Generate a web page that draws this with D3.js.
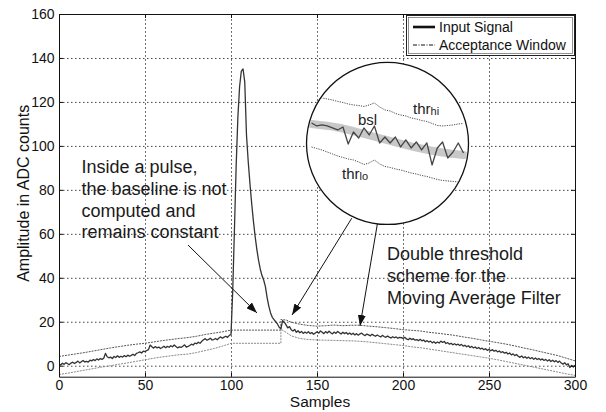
<!DOCTYPE html>
<html>
<head>
<meta charset="utf-8">
<script src="https://cdn.jsdelivr.net/npm/d3@7"></script>
<style>
  body { margin: 0; background: #fff; }
  svg { display: block; font-family: 'Liberation Sans', Arial, sans-serif; }
</style>
</head>
<body>
<div id="chart"></div>
<script>
const sampleTicks = [0, 50, 100, 150, 200, 250, 300];
const amplitudeTicks = [0, 20, 40, 60, 80, 100, 120, 140, 160];

// input signal, one value per sample (0..300)
const signal = [
  0.8, 0.3, 1.1, 0.6, 1.4, 0.9, 0.5, 1.2, 1.6, 1.0,
  1.5, 2.1, 1.3, 1.8, 2.4, 1.7, 2.0, 1.6, 2.5, 2.2,
  2.8, 2.3, 3.1, 2.6, 3.3, 2.9, 3.4, 5.6, 4.1, 3.6,
  3.9, 3.3, 4.2, 3.7, 4.5, 3.8, 4.3, 3.9, 4.6, 4.1,
  4.8, 4.3, 4.7, 5.2, 4.6, 5.6, 5.9, 6.3, 5.8, 6.6,
  6.4, 6.9, 7.3, 9.4, 8.6, 8.0, 8.7, 8.1, 8.5, 7.8,
  8.3, 8.9, 8.2, 8.8, 8.4, 9.1, 8.6, 9.4, 8.7, 8.1,
  8.6, 8.3, 8.9, 9.5, 8.5, 8.8, 9.2, 9.8, 9.4, 10.3,
  10.0, 10.7, 10.2, 11.1, 11.8, 12.3, 11.6, 12.0, 12.5, 11.7,
  11.9, 12.4, 11.8, 12.6, 13.1, 12.5, 13.0, 13.4, 12.9, 13.8,
  14.2, 34, 62, 91, 113, 127, 134, 135, 129, 105,
  93, 83, 74, 66, 59, 53, 48, 44, 41, 39,
  36, 31, 27, 24, 22, 21, 20, 19, 17.5, 16.8,
  20.5, 19.8, 18.6, 17.2, 17.8, 16.4, 15.8, 16.5, 15.2, 15.9,
  15.0, 15.6, 14.7, 15.3, 14.8, 15.5, 14.6, 15.1, 14.3, 14.9,
  15.4, 14.8, 15.8, 15.2, 14.6, 15.5, 14.9, 15.7, 15.0, 14.5,
  15.3, 14.7, 15.6, 15.0, 14.4, 15.2, 14.6, 15.1, 14.3, 14.9,
  14.2, 14.8, 14.0, 14.6, 13.9, 14.5, 14.8, 14.1, 13.7, 14.4,
  14.0, 13.6, 14.3, 13.8, 13.4, 14.0, 13.5, 13.1, 13.8, 13.3,
  12.9, 13.5, 13.0, 12.6, 13.2, 12.7, 13.1, 12.5, 12.9, 12.8,
  12.4, 12.9, 12.2, 11.8, 12.5, 11.9, 12.3, 11.6, 11.9, 11.4,
  12.0, 11.3, 11.7, 10.9, 11.4, 10.8, 11.2, 10.4, 10.9, 10.2,
  10.8, 10.3, 11.2, 10.6, 11.0, 10.1, 10.5, 9.8, 10.2, 9.5,
  10.0, 9.4, 9.8, 9.2, 9.7, 8.9, 9.3, 8.6, 9.1, 8.3,
  8.8, 8.1, 8.5, 7.8, 8.3, 7.6, 8.0, 7.3, 7.7, 7.0,
  7.4, 6.8, 7.3, 6.6, 7.0, 6.3, 6.7, 6.0, 6.4, 5.7,
  6.1, 5.3, 5.8, 4.9, 5.4, 4.6, 5.1, 4.3, 3.8, 4.4,
  3.6, 4.1, 3.4, 3.9, 3.2, 3.7, 2.9, 3.5, 2.8, 3.3,
  2.6, 3.1, 2.4, 2.9, 2.1, 2.7, 1.9, 2.5, 1.8, 2.3,
  1.5, 2.1, 1.2, 0.7, 1.4, 0.4, 0.9, -0.8, 0.1, -0.6,
  0.2
];

// acceptance window (thr_hi / thr_lo)
const windowSamples = [
  0, 5, 10, 15, 20, 25, 30, 35, 40, 45, 50, 55, 60, 65, 70, 75, 80, 85, 90, 95, 100,
  129, 129, 132,
  135, 140, 145, 150, 155, 160, 165, 170, 175, 180, 185, 190, 195, 200, 205, 210, 215,
  220, 225, 230, 235, 240, 245, 250, 255, 260, 265, 270, 275, 280, 285, 290, 295, 300
];
const upperWindow = [
  4.2, 4.8, 5.4, 6.0, 6.7, 7.4, 8.1, 8.7, 9.3, 9.8, 10.2, 10.8, 11.4, 11.9, 12.4, 12.8, 13.4, 14.2, 14.8, 15.4, 16.2,
  16.2, 21.0, 20.8,
  19.8, 18.9, 18.3, 18.0, 18.2, 18.5, 18.2, 18.4, 18.4, 18.0, 17.7, 17.3, 16.9, 16.4, 16.1, 15.8, 15.2,
  14.8, 14.3, 13.8, 13.1, 12.5, 11.8, 11.1, 10.5, 9.8, 9.0, 8.1, 7.3, 6.4, 5.5, 4.6, 3.4, 2.2
];
const lowerWindow = [
  -4.0, -3.4, -2.7, -2.0, -1.3, -0.6, 0.0, 0.7, 1.3, 2.0, 2.7, 3.4, 4.0, 4.5, 5.0, 5.3, 6.0, 6.9, 7.8, 8.9, 10.2,
  10.2, 16.6, 15.2,
  13.6, 12.4, 11.9, 11.7, 11.6, 11.5, 11.4, 11.3, 11.1, 10.8, 10.4, 10.0, 9.6, 9.2, 8.6, 8.2, 7.6,
  7.0, 6.4, 5.8, 5.2, 4.6, 4.0, 3.4, 2.7, 1.9, 1.1, 0.3, -0.5, -1.3, -2.1, -2.9, -3.7, -4.4
];

// magnified view inside the circle (index 0..29, arbitrary amplitude units)
const insetSignal = [
  6.7, 6.4, 6.5, 6.4, 6.2, 6.0, 6.3, 4.6, 5.8, 5.2,
  6.2, 5.5, 6.4, 4.7, 5.3, 4.7, 5.3, 4.3, 5.0, 4.2,
  4.8, 4.0, 4.7, 2.5, 4.2, 4.8, 3.2, 3.8, 4.7, 3.7
];
const insetBaselineIdx = [0, 5, 10, 15, 20, 25, 29];
const insetBaseline = [6.6, 6.25, 5.6, 4.9, 4.25, 3.75, 3.5];
const insetThrHi = [
  9.35, 9.3, 9.2, 9.1, 9.0, 8.85, 8.75, 8.6, 8.5, 8.45,
  8.35, 8.5, 8.7, 8.3, 8.0, 7.9, 7.65, 7.5, 7.4, 7.2,
  7.1, 6.95, 6.85, 6.65, 6.45, 6.4, 6.45, 6.5, 6.6, 6.65
];
const insetThrLo = [
  4.3, 4.15, 4.0, 3.8, 3.6, 3.4, 3.25, 3.1, 3.0, 2.8,
  2.55, 2.7, 3.0, 2.6, 2.35, 2.25, 2.1, 2.0, 1.85, 1.7,
  1.6, 1.45, 1.35, 1.2, 1.05, 0.95, 0.9, 0.85, 0.8, 0.8
];

// annotations in data coordinates [sample, amplitude]
const circleCenter = [191, 101.1];
const arrows = [
  { from: [75, 54.9], to: [115.1, 24] },
  { from: [170.2, 67.1], to: [135.5, 23.1] },
  { from: [185.1, 64.5], to: [175, 18.1] }
];
const pulseNote = ['Inside a pulse,', 'the baseline is not', 'computed and', 'remains constant'];
const filterNote = ['Double threshold', 'scheme for the', 'Moving Average Filter'];

const svgWidth = 606;
const svgHeight = 412;
const margin = { top: 14, right: 31, bottom: 35.3, left: 59 };
const width = svgWidth - margin.left - margin.right;
const height = svgHeight - margin.top - margin.bottom;

const svg = d3.select('#chart')
  .append('svg')
  .attr('width', svgWidth)
  .attr('height', svgHeight);

svg.append('rect')
  .attr('width', svgWidth)
  .attr('height', svgHeight)
  .attr('fill', '#fff');

const defs = svg.append('defs');
defs.append('clipPath')
  .attr('id', 'plot-clip')
  .append('rect')
  .attr('width', width)
  .attr('height', height);

defs.append('marker')
  .attr('id', 'arrowhead')
  .attr('viewBox', '0 0 11 8')
  .attr('refX', 11)
  .attr('refY', 4)
  .attr('markerWidth', 11)
  .attr('markerHeight', 8)
  .attr('markerUnits', 'userSpaceOnUse')
  .attr('orient', 'auto')
  .append('path')
  .attr('d', 'M0,0 L11,4 L0,8 Z')
  .attr('fill', '#111');

const bounds = svg.append('g')
  .attr('transform', `translate(${margin.left}, ${margin.top})`);

const xScale = d3.scaleLinear()
  .domain([0, 300])
  .range([0, width]);

const yScale = d3.scaleLinear()
  .domain([-5, 160])
  .range([height, 0]);

// dotted grid
const gridStyle = g => {
  g.select('.domain').remove();
  g.selectAll('text').remove();
  g.selectAll('line')
    .attr('stroke', '#444')
    .attr('stroke-width', 1)
    .attr('stroke-dasharray', '1.5,2.5');
};

bounds.append('g')
  .attr('class', 'grid x')
  .attr('transform', `translate(0, ${height})`)
  .call(d3.axisBottom(xScale).tickValues(sampleTicks.slice(1, -1)).tickSize(-height))
  .call(gridStyle);

bounds.append('g')
  .attr('class', 'grid y')
  .call(d3.axisLeft(yScale).tickValues(amplitudeTicks.slice(0, -1)).tickSize(-width))
  .call(gridStyle);

// acceptance window
const windowLine = values => d3.line()
  .x((d, i) => xScale(d))
  .y((d, i) => yScale(values[i]));

const plot = bounds.append('g')
  .attr('clip-path', 'url(#plot-clip)');

plot.selectAll('.window')
  .data([upperWindow, lowerWindow])
  .enter()
  .append('path')
  .attr('class', 'window')
  .attr('d', d => windowLine(d)(windowSamples))
  .attr('fill', 'none')
  .attr('stroke', (d, i) => i === 0 ? '#555' : '#888')
  .attr('stroke-width', 1)
  .attr('stroke-dasharray', '2,1');

// input signal
const signalLine = d3.line()
  .x((d, i) => xScale(i))
  .y(d => yScale(d));

plot.append('path')
  .attr('class', 'signal')
  .attr('d', signalLine(signal))
  .attr('fill', 'none')
  .attr('stroke', '#333')
  .attr('stroke-width', 1.3)
  .attr('stroke-linejoin', 'round');

// axes with inward ticks
const axisStyle = g => {
  g.select('.domain').attr('stroke', '#111').attr('stroke-width', 1);
  g.selectAll('line').attr('stroke', '#111');
  g.selectAll('text')
    .attr('fill', '#111')
    .style('font-size', '14px')
    .style('font-family', "'Liberation Sans', Arial, sans-serif");
};

bounds.append('g')
  .attr('class', 'x axis')
  .attr('transform', `translate(0, ${height})`)
  .call(d3.axisBottom(xScale).tickValues(sampleTicks).tickSizeInner(-4).tickSizeOuter(0).tickPadding(3.5))
  .call(axisStyle);

bounds.append('g')
  .attr('class', 'y axis')
  .call(d3.axisLeft(yScale).tickValues(amplitudeTicks).tickSizeInner(-4).tickSizeOuter(0).tickPadding(4.5))
  .call(axisStyle);

bounds.append('g')
  .attr('class', 'x axis top')
  .call(d3.axisTop(xScale).tickValues(sampleTicks).tickSizeInner(-4).tickSizeOuter(0).tickFormat(''))
  .call(axisStyle);

bounds.append('g')
  .attr('class', 'y axis right')
  .attr('transform', `translate(${width}, 0)`)
  .call(d3.axisRight(yScale).tickValues(amplitudeTicks).tickSizeInner(-4).tickSizeOuter(0).tickFormat(''))
  .call(axisStyle);

// axis titles
svg.append('text')
  .attr('x', margin.left + width / 2 + 3)
  .attr('y', 407)
  .attr('text-anchor', 'middle')
  .attr('fill', '#111')
  .style('font-size', '15.5px')
  .text('Samples');

svg.append('text')
  .attr('transform', `translate(29, ${margin.top + height / 2 - 2}) rotate(-90)`)
  .attr('text-anchor', 'middle')
  .attr('fill', '#111')
  .style('font-size', '16px')
  .text('Amplitude in ADC counts');

// legend
const legend = svg.append('g')
  .attr('class', 'legend');

legend.append('rect')
  .attr('x', 406.5).attr('y', 15.5)
  .attr('width', 168).attr('height', 40)
  .attr('fill', '#fff')
  .attr('stroke', '#222');

legend.append('rect')
  .attr('x', 408.5).attr('y', 17.5)
  .attr('width', 164).attr('height', 36)
  .attr('fill', 'none')
  .attr('stroke', '#777')
  .attr('stroke-width', 0.8);

const legendItems = [
  { label: 'Input Signal', width: 2.6, dash: null, y: 27 },
  { label: 'Acceptance Window', width: 1, dash: '4,1.5,1,1.5', y: 45 }
];

legend.selectAll('.legend-line')
  .data(legendItems)
  .enter()
  .append('line')
  .attr('class', 'legend-line')
  .attr('x1', 413).attr('x2', 435)
  .attr('y1', d => d.y).attr('y2', d => d.y)
  .attr('stroke', '#111')
  .attr('stroke-width', d => d.width)
  .attr('stroke-dasharray', d => d.dash);

legend.selectAll('.legend-label')
  .data(legendItems)
  .enter()
  .append('text')
  .attr('class', 'legend-label')
  .attr('x', 439)
  .attr('y', d => d.y + 5)
  .attr('fill', '#111')
  .style('font-size', '14px')
  .text(d => d.label);

// magnifier circle
const cx = margin.left + xScale(circleCenter[0]);
const cy = margin.top + yScale(circleCenter[1]);
const radius = 81;

defs.append('clipPath')
  .attr('id', 'lens-clip')
  .append('circle')
  .attr('cx', cx).attr('cy', cy).attr('r', radius - 1);

svg.append('circle')
  .attr('cx', cx).attr('cy', cy).attr('r', radius)
  .attr('fill', '#fff');

const insetX = d3.scaleLinear()
  .domain([0, 29])
  .range([cx - 76, cx + 76]);

const insetY = d3.scaleLinear()
  .domain([0, 10])
  .range([cy + 46.5, cy - 53.5]);

const lens = svg.append('g')
  .attr('clip-path', 'url(#lens-clip)');

const insetLine = d3.line()
  .x((d, i) => insetX(i))
  .y(d => insetY(d));

lens.append('path')
  .attr('d', d3.line()
    .x(d => insetX(d))
    .y((d, i) => insetY(insetBaseline[i]))
    .curve(d3.curveMonotoneX)(insetBaselineIdx))
  .attr('fill', 'none')
  .attr('stroke', '#c8c8c8')
  .attr('stroke-width', 8)
  .attr('stroke-linecap', 'round');

lens.selectAll('.inset-thr')
  .data([insetThrHi, insetThrLo])
  .enter()
  .append('path')
  .attr('class', 'inset-thr')
  .attr('d', d => insetLine(d))
  .attr('fill', 'none')
  .attr('stroke', '#333')
  .attr('stroke-width', 0.9)
  .attr('stroke-dasharray', '1.2,1.2');

lens.append('path')
  .attr('d', insetLine(insetSignal))
  .attr('fill', 'none')
  .attr('stroke', '#444')
  .attr('stroke-width', 1.3)
  .attr('stroke-linejoin', 'round');

svg.append('circle')
  .attr('cx', cx).attr('cy', cy).attr('r', radius)
  .attr('fill', 'none')
  .attr('stroke', '#111')
  .attr('stroke-width', 1.3);

const lensLabel = (dx, dy, main, sub) => {
  const t = svg.append('text')
    .attr('x', cx + dx)
    .attr('y', cy + dy)
    .attr('fill', '#222')
    .style('font-size', '15px')
    .text(main);
  if (sub) {
    t.append('tspan')
      .attr('dy', 1)
      .style('font-size', '11px')
      .text(sub);
  }
};

lensLabel(-29.5, -18.5, 'bsl');
lensLabel(25.5, -29, 'thr', 'hi');
lensLabel(-45.5, 36, 'thr', 'lo');

// arrows
bounds.selectAll('.arrow')
  .data(arrows)
  .enter()
  .append('line')
  .attr('class', 'arrow')
  .attr('x1', d => xScale(d.from[0]))
  .attr('y1', d => yScale(d.from[1]))
  .attr('x2', d => xScale(d.to[0]))
  .attr('y2', d => yScale(d.to[1]))
  .attr('stroke', '#111')
  .attr('stroke-width', 1)
  .attr('marker-end', 'url(#arrowhead)');

// notes
const note = (lines, x, y) => {
  svg.append('text')
    .attr('x', x)
    .attr('y', y)
    .attr('fill', '#1a1a1a')
    .style('font-size', '18px')
    .selectAll('tspan')
    .data(lines)
    .enter()
    .append('tspan')
    .attr('x', x)
    .attr('dy', (d, i) => i === 0 ? 0 : 21.8)
    .text(d => d);
};

note(pulseNote, 81.5, 173);
note(filterNote, 387, 260);
</script>
</body>
</html>
